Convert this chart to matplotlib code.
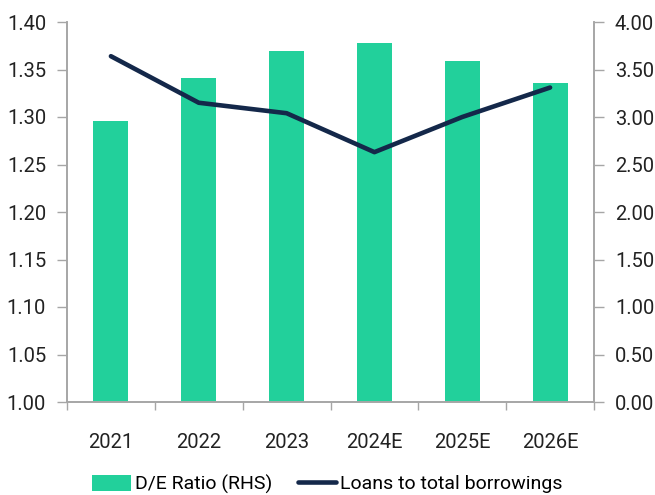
import matplotlib
matplotlib.use("Agg")
import matplotlib.pyplot as plt
import numpy as np

plt.rcParams['font.family'] = ['Roboto', 'DejaVu Sans']

categories = ["2021", "2022", "2023", "2024E", "2025E", "2026E"]
de_ratio = [2.96, 3.41, 3.70, 3.78, 3.59, 3.36]
loans_to_borrowings = [1.364, 1.315, 1.304, 1.263, 1.300, 1.331]
left_ticks = [1.00, 1.05, 1.10, 1.15, 1.20, 1.25, 1.30, 1.35, 1.40]
right_ticks = [0.0, 0.5, 1.0, 1.5, 2.0, 2.5, 3.0, 3.5, 4.0]

green = "#22d09b"
navy = "#14284a"
grey = "#a6a6a6"
fs = 14.5

fig = plt.figure(figsize=(6.55, 4.95), dpi=100)
ax = fig.add_axes([67/655, 93/495, (594-67)/655, (402-22)/495])
ax2 = ax.twinx()

x = np.arange(len(categories))
ax2.bar(x, de_ratio, width=0.4, color=green, zorder=1, label="D/E Ratio (RHS)")
ax.plot(x, loans_to_borrowings, color=navy, lw=3.3, solid_capstyle='round', zorder=3,
        label="Loans to total borrowings")
ax.set_zorder(ax2.get_zorder() + 1)
ax.patch.set_visible(False)

ax.set_xlim(-0.5, len(categories) - 0.5)
ax.set_ylim(1.0, 1.4)
ax2.set_ylim(0, 4)
ax.set_yticks(left_ticks)
ax.set_yticklabels([f"{v:.2f}" for v in left_ticks])
ax2.set_yticks(right_ticks)
ax2.set_yticklabels([f"{v:.2f}" for v in right_ticks])

ax.set_xticks(x)
ax.set_xticklabels(categories)
ax.set_xticks(np.arange(len(categories) + 1) - 0.5, minor=True)
ax.tick_params(axis='x', which='major', length=0, pad=22, labelsize=fs, labelcolor="#222222")
ax.tick_params(axis='x', which='minor', length=6, color=grey, width=1)
ax.tick_params(axis='y', length=7, color=grey, width=1, labelsize=fs, pad=8, labelcolor="#222222")
ax2.tick_params(axis='y', length=7, color=grey, width=1, labelsize=fs, pad=8, labelcolor="#222222")

for a in (ax, ax2):
    for s in a.spines.values():
        s.set_color(grey)
        s.set_linewidth(1.2)
    a.spines['top'].set_visible(False)

h1, l1 = ax2.get_legend_handles_labels()
h2, l2 = ax.get_legend_handles_labels()
fig.legend(h1 + h2, l1 + l2, loc='center', bbox_to_anchor=(0.5, 11/495), ncol=2,
           frameon=False, fontsize=14, handlelength=2.0, handleheight=0.9,
           columnspacing=1.3, handletextpad=0.2)

fig.savefig("out.png", dpi=100)
